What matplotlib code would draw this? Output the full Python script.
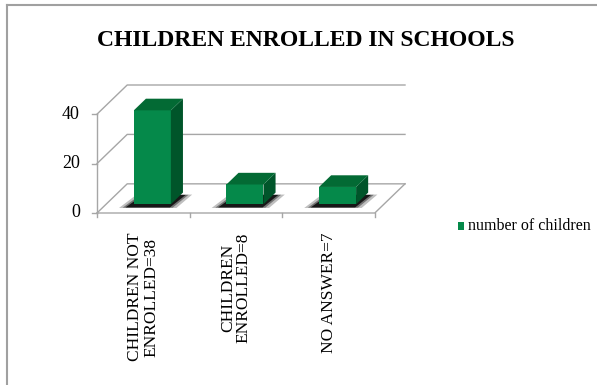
import numpy as np
import matplotlib.pyplot as plt
from matplotlib.patches import Polygon

# Data
categories = ["CHILDREN NOT\nENROLLED=38", "CHILDREN\nENROLLED=8", "NO ANSWER=7"]
values = [38, 8, 7]
series_name = "number of children"
yticks = [0, 20, 40]

front_col = "#05894A"
top_col = "#036A34"
side_col = "#00552A"
grid_col = "#A6A6A6"

fig = plt.figure(figsize=(5.97, 3.85), dpi=100)

# frame around the picture (top and left only are visible)
fig.add_artist(plt.Line2D([7/597, 1], [1-5/385, 1-5/385], color="#A0A0A0", lw=1.5))
fig.add_artist(plt.Line2D([7/597, 7/597], [0, 1-5/385], color="#A0A0A0", lw=1.5))

fig.text(0.512, 1-41/385, "CHILDREN ENROLLED IN SCHOOLS", ha="center", va="center",
         fontsize=17, fontweight="bold", family="Liberation Serif")

# axes whose data space covers the front plane plus depth offset
ax = fig.add_axes([97/597, 1-213/385, 308/597, 128/385])
ax.set_axis_off()

n = len(values)
ymax = yticks[-1]
ddx = 0.326      # depth offset in category units
ddy = 11.8       # depth offset in value units
ax.set_xlim(0, n + ddx)
ax.set_ylim(0, ymax + ddy)

# walls and gridlines
for t in yticks:
    ax.plot([0, ddx, n + ddx], [t, t + ddy, t + ddy], color=grid_col, lw=1, clip_on=False)
ax.plot([0, n, n + ddx], [0, 0, ddy], color=grid_col, lw=1, clip_on=False)
ax.plot([0, 0], [0, ymax], color=grid_col, lw=1, clip_on=False)
for t in yticks:
    ax.plot([-0.05, 0], [t, t], color=grid_col, lw=1, clip_on=False)
    ax.text(-0.185, t, str(t), ha="right", va="center", fontsize=13,
            family="Liberation Serif")
for i in range(n + 1):
    ax.plot([i, i], [0, -1.8], color=grid_col, lw=1, clip_on=False)

# bars
w = 0.4
f0, f1 = 0.3, 0.7    # front and back of bar as fraction of depth
bx = np.arange(n) + 0.5 - w / 2 + f0 * ddx
by = f0 * ddy
bdx = (f1 - f0) * ddx
bdy = (f1 - f0) * ddy

for x, v in zip(bx, values):
    # shadow on the floor
    for k, a in zip([0.10, 0.06, 0.03], [0.25, 0.4, 0.8]):
        sh = Polygon([(x - k - 0.06, by - 1.2 - k * 3), (x + w + k - 0.04, by - 1.2 - k * 3),
                      (x + w + bdx + k, by + bdy - 1 + k * 2), (x + bdx - k, by + bdy - 1 + k * 2)],
                     closed=True, fc="black", ec="none", alpha=a, clip_on=False)
        ax.add_patch(sh)
    ax.bar(x, v, width=w, bottom=by, align="edge", color=front_col, clip_on=False, zorder=3)
    side = Polygon([(x + w, by), (x + w + bdx, by + bdy), (x + w + bdx, by + bdy + v), (x + w, by + v)],
                   closed=True, fc=side_col, ec="none", clip_on=False, zorder=3)
    top = Polygon([(x, by + v), (x + w, by + v), (x + w + bdx, by + bdy + v), (x + bdx, by + bdy + v)],
                  closed=True, fc=top_col, ec="none", clip_on=False, zorder=3)
    ax.add_patch(side)
    ax.add_patch(top)

# category labels, rotated
for i, lab in enumerate(categories):
    ax.text(i + 0.5, -8, lab, rotation=90, ha="center", va="top", fontsize=12.5,
            family="Liberation Serif", multialignment="center", linespacing=1.0)

# legend
fig.patches.append(plt.Rectangle((458/597, 1-230/385), 6/597, 8/385, transform=fig.transFigure,
                                 fc=front_col, ec="none"))
fig.text(468/597, 1-226/385, series_name, ha="left", va="center", fontsize=11.5,
         family="Liberation Serif")

fig.savefig("out.png", dpi=100)
